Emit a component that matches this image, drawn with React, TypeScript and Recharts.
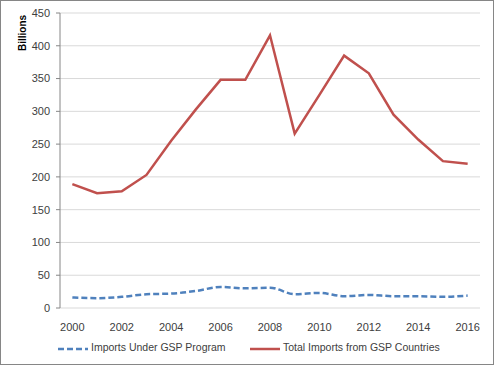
import { LineChart, Line, XAxis, YAxis, CartesianGrid, Legend, Label } from 'recharts';

const years = [2000, 2001, 2002, 2003, 2004, 2005, 2006, 2007, 2008, 2009, 2010, 2011, 2012, 2013, 2014, 2015, 2016];
const gspProgram = [16, 15, 17, 21, 22, 26, 32, 30, 31, 21, 23, 18, 20, 18, 18, 17, 19];
const gspTotal = [189, 175, 178, 203, 255, 303, 348, 348, 416, 266, 325, 385, 358, 295, 257, 224, 220];
const yTicks = [0, 50, 100, 150, 200, 250, 300, 350, 400, 450];
const xLabelTicks = [2000, 2002, 2004, 2006, 2008, 2010, 2012, 2014, 2016];
const xBoundaryTicks = [...years.map((y) => y - 0.5), 2016.5];

const data = years.map((year, i) => ({
  year,
  program: gspProgram[i],
  total: gspTotal[i],
}));

const font = '"Liberation Sans", Arial, sans-serif';
const textColor = '#404040';
const axisColor = '#868686';
const gridColor = '#d9d9d9';
const blue = '#4F81BD';
const red = '#C0504D';

function LegendBox() {
  return (
    <div style={{ position: 'relative', width: 494, height: 18, fontFamily: font, fontSize: 10.5, color: textColor }}>
      <svg width={32} height={10} style={{ position: 'absolute', left: 57, top: 4 }}>
        <line x1={1} y1={5} x2={31} y2={5} stroke={blue} strokeWidth={2.5} strokeDasharray="6 3" />
      </svg>
      <span style={{ position: 'absolute', left: 91, top: 1, whiteSpace: 'nowrap' }}>Imports Under GSP Program</span>
      <svg width={32} height={10} style={{ position: 'absolute', left: 249, top: 4 }}>
        <line x1={1} y1={5} x2={31} y2={5} stroke={red} strokeWidth={2.5} />
      </svg>
      <span style={{ position: 'absolute', left: 283, top: 1, whiteSpace: 'nowrap' }}>Total Imports from GSP Countries</span>
    </div>
  );
}

export default function App() {
  return (
    <div style={{ position: 'absolute', left: 0, top: 0, width: 494, height: 365, background: '#fff' }}>
      <LineChart
        width={494}
        height={365}
        data={data}
        margin={{ top: 13, right: 14, bottom: 27, left: 0 }}
      >
        <CartesianGrid vertical={false} stroke={gridColor} />
        <XAxis
          xAxisId="marks"
          type="number"
          dataKey="year"
          domain={[1999.5, 2016.5]}
          ticks={xBoundaryTicks}
          tick={false}
          tickSize={5}
          height={0}
          stroke={axisColor}
          allowDataOverflow
        />
        <XAxis
          xAxisId="labels"
          type="number"
          dataKey="year"
          domain={[1999.5, 2016.5]}
          ticks={xLabelTicks}
          axisLine={false}
          tickLine={false}
          tickMargin={9}
          height={30}
          tick={{ fill: textColor, fontSize: 11, fontFamily: font }}
          allowDataOverflow
        />
        <YAxis
          domain={[0, 450]}
          ticks={yTicks}
          width={60}
          tickSize={4}
          tickMargin={6}
          stroke={axisColor}
          tick={{ fill: textColor, fontSize: 11, fontFamily: font }}
          interval={0}
        >
          <Label
            content={({ viewBox }: any) => (
              <text
                x={viewBox.x + 26}
                y={viewBox.y + 20}
                transform={`rotate(-90 ${viewBox.x + 26} ${viewBox.y + 20})`}
                textAnchor="middle"
                fontFamily={font}
                fontSize={10}
                fontWeight="bold"
                fill="#000"
              >
                Billions
              </text>
            )}
          />
        </YAxis>
        <Line
          xAxisId="labels"
          type="monotone"
          dataKey="program"
          name="Imports Under GSP Program"
          stroke={blue}
          strokeWidth={2.5}
          strokeDasharray="6 3"
          dot={false}
          isAnimationActive={false}
        />
        <Line
          xAxisId="labels"
          type="linear"
          dataKey="total"
          name="Total Imports from GSP Countries"
          stroke={red}
          strokeWidth={2.5}
          dot={false}
          isAnimationActive={false}
        />
        <Legend
          layout="horizontal"
          verticalAlign="middle"
          align="center"
          content={() => <LegendBox />}
          wrapperStyle={{ top: 340, left: 0, width: 494 }}
        />
      </LineChart>
      <div
        style={{
          position: 'absolute',
          left: 0,
          top: 0,
          width: 494,
          height: 365,
          boxSizing: 'border-box',
          border: `1px solid ${axisColor}`,
          pointerEvents: 'none',
        }}
      />
    </div>
  );
}
